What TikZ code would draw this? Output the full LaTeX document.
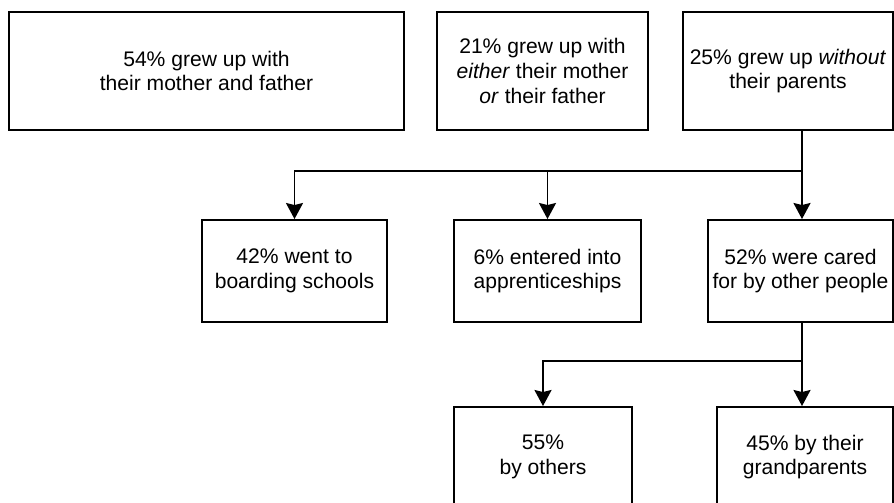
\documentclass[tikz,border=0pt]{standalone}
\usepackage{fontspec}
\setmainfont{Liberation Sans}
\usetikzlibrary{arrows.meta}

\begin{document}
\begin{tikzpicture}[x=0.02cm, y=-0.02cm,
    box/.style={draw, line width=1.1pt, align=center, inner sep=2pt,
        font=\fontsize{12}{14}\selectfont},
    arr/.style={line width=1.1pt, -{Stealth[length=0.32cm, width=0.34cm, inset=0.04cm]}}]
    \useasboundingbox (0,0) rectangle (894,503);

    \node[box, minimum width=7.9cm, minimum height=2.36cm] (both) at (206.5,71) {54\% grew up with\\their mother and father};
    \node[box, minimum width=4.22cm, minimum height=2.36cm] (one) at (542.5,71) {21\% grew up with\\\textit{either} their mother\\\textit{or} their father};
    \node[box, minimum width=4.2cm, minimum height=2.36cm] (none) at (788,71) {25\% grew up \textit{without}\\their parents};

    \node[box, minimum width=3.7cm, minimum height=2.04cm] (school) at (294.5,271) {42\% went to\\boarding schools};
    \node[box, minimum width=3.74cm, minimum height=2.04cm] (appr) at (547.5,271) {6\% entered into\\apprenticeships};
    \node[box, minimum width=3.7cm, minimum height=2.04cm] (cared) at (800.5,271) {52\% were cared\\for by other people};

    \node[box, minimum width=3.56cm, minimum height=2.0cm] (others) at (543,457) {55\%\\by others};
    \node[box, minimum width=3.52cm, minimum height=2.0cm] (grand) at (805,457) {45\% by their\\grandparents};

    \coordinate (j1) at (802,171);
    \coordinate (j2) at (802,361);

    \draw[line width=1.1pt] (j1 |- none.south) -- (j1);
    \draw[arr] (j1) -- (j1 |- cared.north);
    \draw[arr] (j1) -| (school.north);
    \draw[arr] (j1 -| appr.north) -- (appr.north);

    \draw[line width=1.1pt] (j2 |- cared.south) -- (j2);
    \draw[arr] (j2) -- (j2 |- grand.north);
    \draw[arr] (j2) -| (others.north);
\end{tikzpicture}
\end{document}
